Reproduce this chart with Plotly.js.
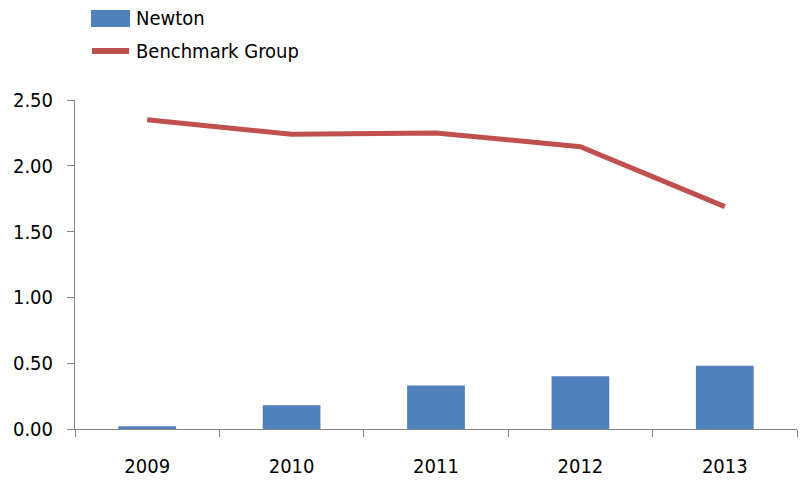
<!DOCTYPE html>
<html>
<head>
<meta charset="utf-8">
<script src="https://cdn.plot.ly/plotly-3.0.1.min.js"></script>
<style>html,body{margin:0;padding:0;background:#fff;}</style>
</head>
<body>
<div id="chart" style="width:801px;height:480px;"></div>
<script>
const years = ["2009", "2010", "2011", "2012", "2013"];
const newton = [0.02, 0.18, 0.33, 0.40, 0.48];
const benchmark = [2.35, 2.24, 2.25, 2.145, 1.69];
const seriesNames = ["Newton", "Benchmark Group"];
const yTickVals = [0, 0.5, 1, 1.5, 2, 2.5];
const yTickText = ["0.00", "0.50", "1.00", "1.50", "2.00", "2.50"];

const FONT = "'DejaVu Sans Condensed', 'Liberation Sans Narrow', sans-serif";
const BAR_COLOR = "#4F81BD";
const LINE_COLOR = "#C0504D";

const traces = [
  {
    type: "bar", name: seriesNames[0], x: years, y: newton,
    marker: {color: BAR_COLOR}, hoverinfo: "skip", showlegend: false
  },
  {
    type: "scatter", mode: "lines", name: seriesNames[1], x: years, y: benchmark,
    line: {color: LINE_COLOR, width: 5}, hoverinfo: "skip", showlegend: false
  }
];

// custom legend (paper coordinates)
const shapes = [
  {type: "rect", xref: "paper", yref: "paper", x0: 0.0222, x1: 0.0762, y0: 1.222, y1: 1.2736,
   fillcolor: BAR_COLOR, line: {width: 0}},
  {type: "line", xref: "paper", yref: "paper", x0: 0.0235, x1: 0.075, y0: 1.149, y1: 1.149,
   line: {color: LINE_COLOR, width: 6}}
];
const annotations = [
  {xref: "paper", yref: "paper", x: 0.082, y: 1.249, xanchor: "left", yanchor: "middle",
   text: seriesNames[0], showarrow: false, font: {family: FONT, size: 20, color: "#000"}},
  {xref: "paper", yref: "paper", x: 0.082, y: 1.149, xanchor: "left", yanchor: "middle",
   text: seriesNames[1], showarrow: false, font: {family: FONT, size: 20, color: "#000"}}
];

const layout = {
  width: 801, height: 480,
  margin: {l: 75, r: 4, t: 100, b: 51},
  paper_bgcolor: "#fff", plot_bgcolor: "#fff",
  font: {family: FONT, size: 20, color: "#000"},
  bargap: 0.6,
  showlegend: false,
  shapes: shapes,
  annotations: annotations,
  xaxis: {
    type: "category", showgrid: false, zeroline: false,
    showline: true, linecolor: "#868686", linewidth: 1,
    ticks: "outside", tickson: "boundaries", ticklen: 7, tickcolor: "#868686",
    tickfont: {family: FONT, size: 20, color: "#000"},
    ticklabelstandoff: 19
  },
  yaxis: {
    range: [0, 2.5], showgrid: false, zeroline: false,
    showline: true, linecolor: "#868686", linewidth: 1,
    ticks: "outside", ticklen: 7, tickcolor: "#868686",
    tickvals: yTickVals, ticktext: yTickText,
    tickfont: {family: FONT, size: 20, color: "#000"},
    ticklabelstandoff: 10
  }
};

Plotly.newPlot("chart", traces, layout, {staticPlot: true, displayModeBar: false});
</script>
</body>
</html>
